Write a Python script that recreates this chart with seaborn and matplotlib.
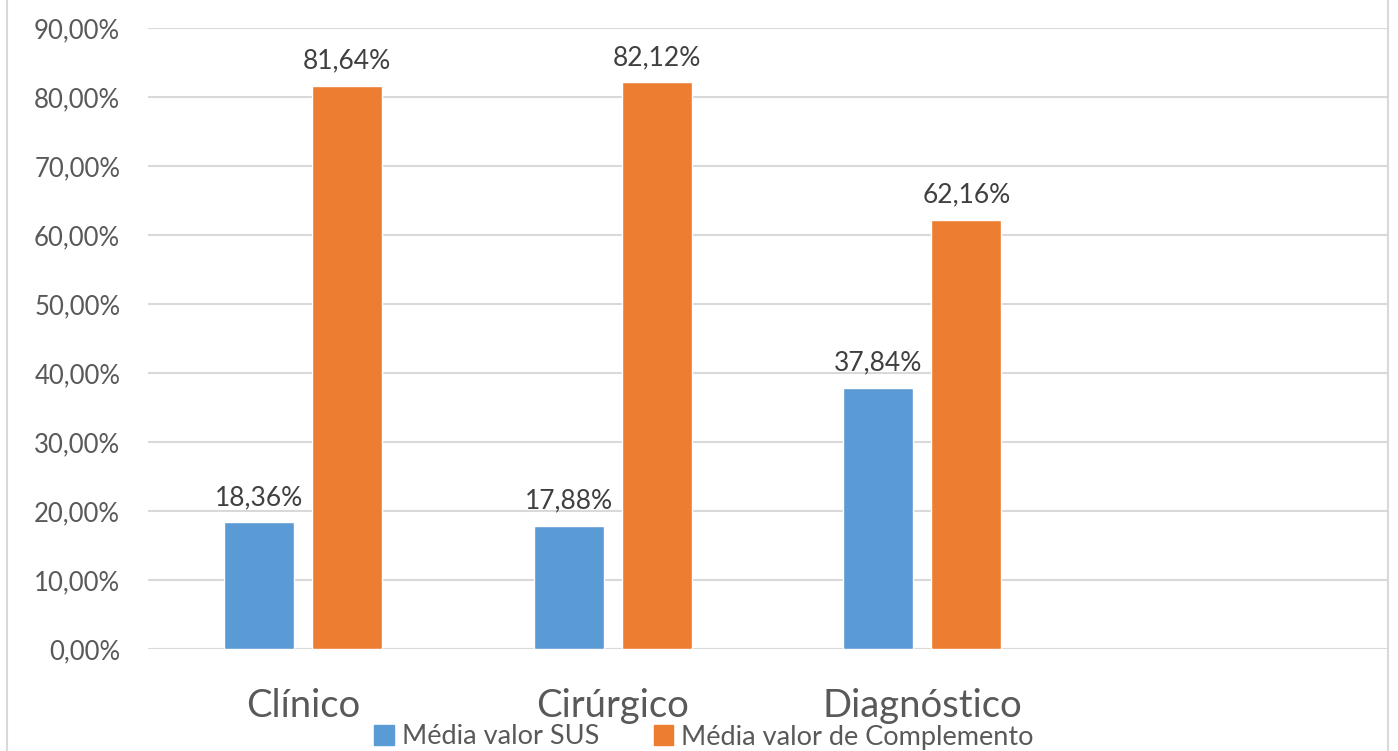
import matplotlib
matplotlib.use("Agg")
import matplotlib.pyplot as plt
import seaborn as sns
import pandas as pd
from matplotlib.ticker import FuncFormatter, MultipleLocator
from matplotlib.lines import Line2D

categories = ["Clínico", "Cirúrgico", "Diagnóstico"]
series_names = ["Média valor SUS", "Média valor de Complemento"]
sus_values = [0.1836, 0.1788, 0.3784]
comp_values = [0.8164, 0.8212, 0.6216]
colors = ["#5B9BD5", "#ED7D31"]

rows = []
for c, v in zip(categories, sus_values):
    rows.append({"cat": c, "serie": series_names[0], "val": v})
for c, v in zip(categories, comp_values):
    rows.append({"cat": c, "serie": series_names[1], "val": v})
df = pd.DataFrame(rows)

sns.set_theme(style="white")
plt.rcParams["font.family"] = ["Lato", "DejaVu Sans"]

W, H = 1398, 751
fig = plt.figure(figsize=(W / 100, H / 100), dpi=100)
ax = fig.add_axes([148 / W, 1 - 649 / H, (1387 - 148) / W, (649 - 28) / H])

order = categories + [" "]
sns.barplot(data=df, x="cat", y="val", hue="serie", order=order,
            hue_order=series_names, palette=colors, width=0.568, gap=0.2045,
            saturation=1, ax=ax, legend=False, errorbar=None)

ax.set_xlim(-0.5, 3.5)
ax.set_ylim(0, 0.9)
ax.yaxis.set_major_locator(MultipleLocator(0.1))
ax.yaxis.set_major_formatter(FuncFormatter(lambda v, p: f"{v*100:.2f}%".replace(".", ",")))
ax.grid(axis="y", color="#D9D9D9", linewidth=1.5)
ax.set_axisbelow(True)
for s in ["top", "right", "left", "bottom"]:
    ax.spines[s].set_visible(False)
ax.axhline(0, color="#D9D9D9", linewidth=1.5, zorder=0.5)
ax.set_xlabel("")
ax.set_ylabel("")
ax.tick_params(axis="y", length=0, pad=20, labelsize=18.5, labelcolor="#595959")
ax.tick_params(axis="x", length=0, pad=28, labelsize=27.5, labelcolor="#595959")

vals = [sus_values, comp_values]
for cont, vs in zip(ax.containers, vals):
    ax.bar_label(cont, labels=[f"{v*100:.2f}%".replace(".", ",") for v in vs],
                 padding=9, fontsize=19, color="#404040")

handles = [plt.Rectangle((0, 0), 1, 1, color=c) for c in colors]
fig.legend(handles, series_names, loc="center", bbox_to_anchor=(704 / W, 1 - 737 / H),
           ncol=2, frameon=False, fontsize=19.5, handlelength=0.72, handleheight=0.72,
           handletextpad=0.3, columnspacing=2.0, labelcolor="#595959",
           borderpad=0, borderaxespad=0)

fig.add_artist(Line2D([7 / W, 7 / W], [0, 1], color="#D9D9D9", linewidth=1.5, transform=fig.transFigure))
fig.add_artist(Line2D([1388 / W, 1388 / W], [0, 1], color="#D9D9D9", linewidth=1.5, transform=fig.transFigure))

fig.savefig("out.png", dpi=100, facecolor="white")
